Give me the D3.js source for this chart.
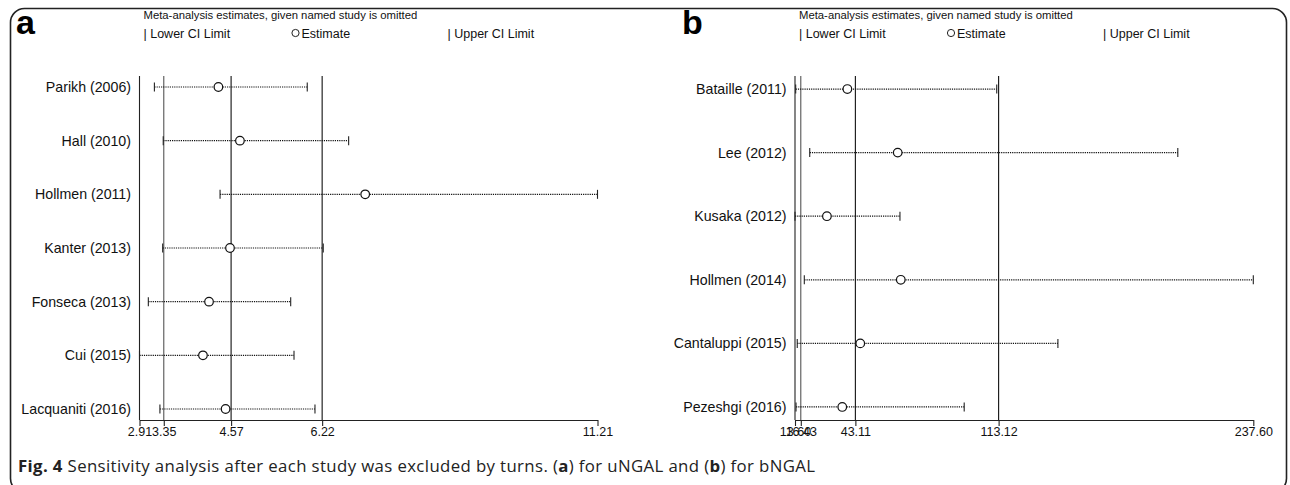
<!DOCTYPE html>
<html>
<head>
<meta charset="utf-8">
<script src="https://cdn.jsdelivr.net/npm/d3@7"></script>
<style>
  html, body { margin: 0; padding: 0; background: #fff; }
  svg { display: block; }
  .lbl { font-family: "Liberation Sans", Arial, sans-serif; fill: #111; }
</style>
</head>
<body>
<svg id="chart" width="1290" height="485"></svg>
<script>
// panel a (uNGAL)
const studiesA = ['Parikh (2006)', 'Hall (2010)', 'Hollmen (2011)', 'Kanter (2013)', 'Fonseca (2013)', 'Cui (2015)', 'Lacquaniti (2016)'];
const lowerA = [3.18, 3.34, 4.37, 3.33, 3.07, 2.91, 3.28];
const estA = [4.34, 4.73, 7.00, 4.55, 4.17, 4.06, 4.47];
const upperA = [5.95, 6.70, 11.21, 6.24, 5.65, 5.71, 6.09];
const overallA = [3.35, 4.57, 6.22];          // lower CI, estimate, upper CI
const ticksA = [2.91, 3.35, 4.57, 6.22, 11.21];

// panel b (bNGAL)
const studiesB = ['Bataille (2011)', 'Lee (2012)', 'Kusaka (2012)', 'Hollmen (2014)', 'Cantaluppi (2015)', 'Pezeshgi (2016)'];
const lowerB = [13.94, 20.8, 13.60, 18.15, 14.7, 14.1];
const estB = [39.2, 63.8, 29.2, 65.3, 45.5, 36.7];
const upperB = [112.2, 200.7, 64.9, 237.60, 142.1, 96.3];
const overallB = [16.43, 43.11, 113.12];
const ticksB = [13.60, 16.43, 43.11, 113.12, 237.60];

const legendLabels = ['Lower CI Limit', 'Estimate', 'Upper CI Limit'];
const headerText = 'Meta-analysis estimates, given named study is omitted';

const svg = d3.select('#chart');
const fmt = d3.format('.2f');

// outer rounded frame (bottom runs past the window)
svg.append('rect')
  .attr('x', 10.5).attr('y', 8.5)
  .attr('width', 1276).attr('height', 484)
  .attr('rx', 14).attr('ry', 14)
  .attr('fill', 'none')
  .attr('stroke', '#222')
  .attr('stroke-width', 1.6);

function drawPanel(opts) {
  const { letter, letterX, studies, lower, est, upper, overall, ticks, xRange } = opts;
  const n = studies.length;
  const pad = 0.205;
  const top = 76, bottom = 420;

  const x = d3.scaleLinear().domain([d3.min(ticks), d3.max(ticks)]).range(xRange);
  const y = d3.scaleLinear().domain([1 - pad, n + pad]).range([top, bottom]);
  const x0 = xRange[0];

  const g = svg.append('g');

  // panel letter
  g.append('text')
    .attr('x', letterX).attr('y', 34)
    .style('font-family', '"Liberation Sans", Arial, sans-serif')
    .style('font-size', '34px')
    .style('font-weight', 'bold')
    .text(letter);

  // header + legend
  g.append('text').attr('class', 'lbl')
    .attr('x', x0 + 4).attr('y', 19)
    .style('font-size', '11.3px')
    .text(headerText);

  const legX = [x0 + 4, x0 + 152, x0 + 308];
  g.append('text').attr('class', 'lbl')
    .attr('x', legX[0]).attr('y', 37.5).style('font-size', '12.5px')
    .text('| ' + legendLabels[0]);
  g.append('circle')
    .attr('cx', legX[1] + 4).attr('cy', 33)
    .attr('r', 3.6)
    .attr('fill', 'none').attr('stroke', '#222').attr('stroke-width', 1);
  g.append('text').attr('class', 'lbl')
    .attr('x', legX[1] + 10).attr('y', 37.5).style('font-size', '12.5px')
    .text(legendLabels[1]);
  g.append('text').attr('class', 'lbl')
    .attr('x', legX[2]).attr('y', 37.5).style('font-size', '12.5px')
    .text('| ' + legendLabels[2]);

  // y axis line at left edge
  g.append('line')
    .attr('x1', x0).attr('x2', x0)
    .attr('y1', top).attr('y2', bottom)
    .attr('stroke', '#222').attr('stroke-width', 1.1);

  // overall lines
  g.selectAll('.ref').data(overall).enter().append('line')
    .attr('class', 'ref')
    .attr('x1', d => x(d)).attr('x2', d => x(d))
    .attr('y1', top).attr('y2', bottom)
    .attr('stroke', (d, i) => i === 0 ? '#555' : '#111')
    .attr('stroke-width', 1.1);

  // x axis
  const axis = d3.axisBottom(x).tickValues(ticks).tickFormat(fmt).tickSize(6).tickSizeOuter(0);
  const ax = g.append('g').attr('transform', `translate(0,${bottom})`).call(axis);
  ax.select('.domain').attr('stroke', '#222').attr('stroke-width', 1.2);
  ax.selectAll('.tick line').attr('stroke', '#222').attr('stroke-width', 1.1);
  ax.selectAll('.tick text')
    .attr('y', 7.5)
    .style('font-family', '"Liberation Sans", Arial, sans-serif')
    .style('font-size', '12.5px')
    .attr('fill', '#111');

  const rows = d3.range(n);

  // study labels
  g.selectAll('.study').data(rows).enter().append('text')
    .attr('class', 'lbl')
    .attr('x', x0 - 8.5)
    .attr('y', i => y(i + 1) + 5)
    .attr('text-anchor', 'end')
    .style('font-size', '14.2px')
    .text(i => studies[i]);

  // dotted CI lines
  g.selectAll('.ci').data(rows).enter().append('line')
    .attr('x1', i => x(lower[i])).attr('x2', i => x(upper[i]))
    .attr('y1', i => y(i + 1)).attr('y2', i => y(i + 1))
    .attr('stroke', '#111').attr('stroke-width', 1.2)
    .attr('stroke-dasharray', '1.2,1');

  // caps
  [lower, upper].forEach(arr => {
    g.selectAll(null).data(rows).enter().append('line')
      .attr('x1', i => x(arr[i])).attr('x2', i => x(arr[i]))
      .attr('y1', i => y(i + 1) - 4.5).attr('y2', i => y(i + 1) + 4.5)
      .attr('stroke', '#222').attr('stroke-width', 1.1);
  });

  // estimates
  g.selectAll('.est').data(rows).enter().append('circle')
    .attr('cx', i => x(est[i])).attr('cy', i => y(i + 1))
    .attr('r', 4.3)
    .attr('fill', '#fff').attr('stroke', '#111').attr('stroke-width', 1.2);
}

drawPanel({
  letter: 'a', letterX: 16,
  studies: studiesA, lower: lowerA, est: estA, upper: upperA,
  overall: overallA, ticks: ticksA, xRange: [139.5, 597.5]
});

drawPanel({
  letter: 'b', letterX: 682,
  studies: studiesB, lower: lowerB, est: estB, upper: upperB,
  overall: overallB, ticks: ticksB, xRange: [795, 1253.3]
});

// caption
const cap = svg.append('text')
  .attr('x', 18).attr('y', 471.5)
  .attr('textLength', 797)
  .attr('lengthAdjust', 'spacing')
  .style('font-family', '"Open Sans", "Noto Sans", sans-serif')
  .style('font-size', '16.8px')
  .attr('fill', '#222');
cap.append('tspan').style('font-weight', 'bold').text('Fig. 4');
cap.append('tspan').text(' Sensitivity analysis after each study was excluded by turns. (');
cap.append('tspan').style('font-weight', 'bold').text('a');
cap.append('tspan').text(') for uNGAL and (');
cap.append('tspan').style('font-weight', 'bold').text('b');
cap.append('tspan').text(') for bNGAL');
</script>
</body>
</html>
